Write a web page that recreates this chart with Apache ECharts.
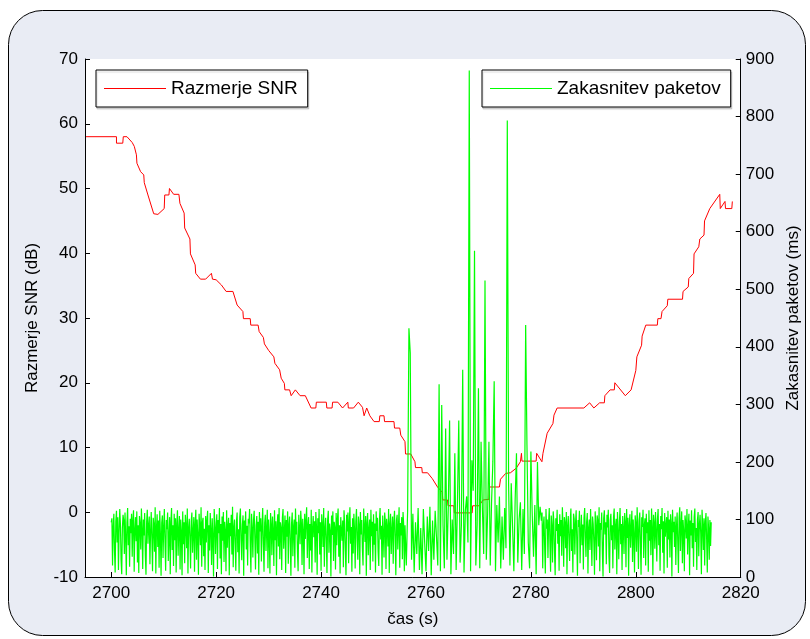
<!DOCTYPE html>
<html>
<head>
<meta charset="utf-8">
<script src="https://cdn.jsdelivr.net/npm/echarts@6/dist/echarts.min.js"></script>
<style>
  html, body { margin: 0; padding: 0; background: #fff; }
  #chart { width: 810px; height: 639px; }
</style>
</head>
<body>
<div id="chart"></div>
<script>
// SNR (dB), stepped trace
const snrTimes = [
  2695.2, 2701, 2701, 2702.2, 2702.3, 2703, 2704, 2704.4, 2704.8, 2704.9,
  2705.6, 2706.2, 2706.3, 2707, 2708.1, 2708.9, 2710.1, 2710.2, 2711, 2711.1,
  2711.9, 2712.9, 2713.1, 2713.9, 2714, 2715, 2715.1, 2716, 2716.1, 2717,
  2718, 2719.1, 2719.3, 2720, 2721, 2721.9, 2723.2, 2724, 2725.1, 2725.2,
  2726.5, 2726.6, 2728, 2728.2, 2729, 2729.2, 2730, 2731, 2731.2, 2732.1,
  2732.4, 2733, 2733.1, 2734, 2734.3, 2735.1, 2736, 2737, 2738.1, 2739,
  2739.1, 2741, 2741.1, 2742.1, 2742.2, 2743.2, 2744.1, 2745.1, 2745.2, 2746.2,
  2747.1, 2747.9, 2748.2, 2748.7, 2749.3, 2750.1, 2751.1, 2751.2, 2752, 2752.1,
  2753.9, 2754, 2755, 2755.2, 2756, 2756.1, 2757.1, 2757.9, 2758, 2759.2,
  2759.3, 2760.3, 2761.2, 2762.2, 2763.1, 2763.2, 2764.1, 2764.2, 2765.3, 2765.4,
  2768.8, 2768.9, 2770.1, 2770.9, 2772, 2772.1, 2774, 2774.2, 2775.2, 2776.1,
  2777.2, 2778, 2778.2, 2778.3, 2781, 2781.1, 2782.1, 2782.3, 2783.1, 2784.2,
  2784.4, 2785, 2790.1, 2791.2, 2792, 2793.1, 2794, 2794.1, 2795.1, 2795.9,
  2796, 2798, 2799.1, 2800, 2800.2, 2801.1, 2801.2, 2801.9, 2804.1, 2804.2,
  2804.8, 2805, 2806, 2806.1, 2808.9, 2809, 2810, 2810.1, 2811, 2811.1,
  2812, 2812.2, 2813, 2813.1, 2814.1, 2816, 2816.1, 2817, 2817.1, 2818.3,
  2818.4
];
const snrValues = [
  58, 58, 57, 57, 58, 58, 57.1, 56.5, 55.2, 53.9,
  52.6, 52.1, 50.9, 49, 46.1, 46, 46.9, 49, 49, 50,
  49.1, 49.1, 47.7, 46.2, 43.9, 42.2, 39.9, 38.2, 36.9, 36,
  36, 36.9, 36, 35.9, 35.1, 34.1, 34.1, 32, 31, 29.9,
  29.9, 28.9, 28.9, 27.9, 27, 26, 25, 24, 23, 22,
  20.7, 19.9, 18.9, 18.9, 18, 18.9, 18, 18, 16.1, 16.1,
  17, 17, 16.1, 16.1, 17, 17, 16.1, 17, 16.1, 16.1,
  17, 16.2, 14.9, 16.1, 14.9, 14, 14, 14.9, 14.9, 14,
  14, 13, 13, 11.9, 10.9, 9, 9, 7.8, 6.9, 6.9,
  6.1, 6.1, 5.2, 3.9, 3.1, 1.9, 1.9, 1, 1, -0.1,
  -0.1, 1, 1, 1.9, 2, 3.9, 3.9, 5.1, 6, 6.1,
  6.8, 7.8, 9.1, 7.9, 7.9, 9.1, 7.8, 9.1, 12.2, 13.7,
  15, 16.1, 16.1, 16.9, 16.1, 16.9, 16.9, 18, 18.9, 18.9,
  20, 18, 18.9, 21.9, 24, 25.8, 27.2, 28.9, 28.9, 29.9,
  29.9, 31, 31.9, 32.9, 32.9, 34.1, 34.8, 36.1, 36.9, 39.9,
  41, 42.2, 42.8, 45, 46.9, 49.1, 46.9, 48, 46.9, 46.9,
  48
];

// packet delay (ms): steady part before the dip, 8 samples per second
const delayEarlyStart = 2700;
const delayEarlyStep = 0.125;
const delayEarly = [
  95, 102, 20, 88, 110, 45, 8, 97, 115, 60, 104, 12, 78, 118, 92, 30,
  5, 85, 108, 99, 40, 112, 70, 3, 95, 120, 55, 88, 18, 101, 76, 110,
  35, 98, 116, 9, 82, 104, 62, 114, 25, 90, 7, 106, 93, 48, 119, 84,
  14, 100, 72, 111, 38, 4, 96, 117, 58, 89, 105, 22, 80, 113, 66, 10,
  103, 91, 44, 121, 6, 86, 109, 52, 98, 16, 115, 74, 2, 94, 107, 33,
  87, 118, 61, 11, 99, 83, 112, 28, 70, 104, 5, 96, 120, 47, 90, 19,
  110, 64, 102, 8, 93, 116, 37, 81, 106, 13, 100, 78, 3, 114, 57, 95,
  24, 108, 89, 50, 119, 6, 85, 101, 68, 15, 97, 112, 42, 79, 104, 9,
  92, 117, 30, 100, 73, 4, 110, 88, 55, 121, 18, 95, 103, 36, 84, 12,
  106, 60, 98, 115, 7, 90, 46, 111, 82, 21, 102, 69, 1, 118, 94, 40,
  87, 109, 14, 99, 76, 120, 32, 92, 5, 105, 63, 113, 26, 96, 80, 10,
  116, 51, 88, 103, 3, 94, 71, 108, 39, 122, 17, 86, 100, 58, 11, 97,
  112, 43, 83, 6, 104, 119, 65, 29, 91, 107, 2, 98, 75, 114, 48, 89,
  20, 101, 93, 118, 54, 8, 110, 85, 34, 99, 115, 67, 13, 90, 106, 41,
  96, 4, 113, 79, 102, 27, 88, 120, 59, 9, 94, 108, 45, 84, 117, 15,
  100, 72, 6, 111, 92, 38, 105, 81, 19, 116, 64, 97, 3, 89, 109, 53,
  120, 31, 95, 86, 12, 103, 118, 49, 78, 107, 7, 99, 70, 114, 23, 91,
  105, 60, 2, 93, 112, 36, 87, 100, 16, 119, 74, 96, 44, 10, 108, 83,
  57, 115, 94, 21, 101, 80, 5, 110, 66, 98, 121, 33, 89, 104, 14, 92,
  46, 117, 8, 85, 106, 69, 97, 25, 113, 88, 4, 102, 76, 118, 39, 95,
  11, 109, 90, 52, 120, 18, 84, 103, 62, 7, 99, 115, 42, 93, 80, 1,
  107, 73, 114, 28, 96, 86, 13, 111, 55, 101, 119, 35, 90, 6, 104, 82,
  63, 98, 17, 116, 92, 47, 3, 108, 79, 112, 24, 95, 121, 58, 87, 9,
  102, 41, 110, 84, 15, 97, 118, 67, 30, 105, 91, 5, 113, 74, 99, 50,
  20, 119, 88, 61, 106, 2, 94, 111, 38, 83, 100, 12, 117, 71, 96, 27,
  109, 56, 93, 8, 114, 80, 103, 44, 19, 98, 120, 65, 89, 4, 107, 76,
  34, 112, 97, 14, 101, 86, 53, 118, 7, 92, 110, 40, 81, 105, 23, 95,
  115, 68, 3, 99, 108, 48, 87, 121, 16, 94, 72, 104, 31, 113, 90, 10
];
// spiky part around the SNR minimum, 4 samples per second
const delayMidStart = 2756;
const delayMidStep = 0.25;
const delayMid = [
  90, 20, 115, 432, 389, 30, 110, 8,
  95, 40, 120, 12, 85, 5, 118, 60,
  10, 105, 45, 122, 3, 98, 30, 115,
  70, 20, 335, 10, 299, 90, 15, 258,
  30, 120, 272, 5, 100, 40, 215, 12,
  130, 272, 25, 90, 360, 8, 115, 140,
  60, 880, 10, 203, 150, 567, 20, 90,
  328, 15, 235, 120, 40, 515, 30, 110,
  235, 20, 130, 200, 340, 10, 125, 60,
  140, 15, 105, 30, 120, 50, 793, 160,
  20, 163, 90, 10, 135, 215, 25, 100,
  130, 12, 118, 40, 438, 229, 60, 15,
  218, 110, 35, 125, 5, 200, 90, 122
];
// steady part after the dip, 8 samples per second
const delayLateStart = 2782;
const delayLateStep = 0.125;
const delayLate = [
  98, 112, 15, 90, 105, 52, 6, 118, 84, 100, 33, 95, 120, 61, 9, 107,
  88, 25, 114, 96, 43, 3, 102, 80, 117, 58, 92, 11, 109, 71, 99, 37,
  121, 86, 18, 104, 94, 50, 113, 5, 89, 106, 66, 28, 97, 119, 45, 83,
  8, 110, 101, 39, 93, 116, 62, 2, 99, 87, 115, 24, 80, 108, 55, 91,
  13, 103, 120, 70, 35, 96, 111, 6, 85, 100, 47, 118, 77, 19, 105, 92,
  60, 4, 114, 89, 29, 107, 98, 53, 121, 10, 94, 82, 112, 41, 1, 102,
  116, 74, 95, 22, 108, 86, 117, 36, 7, 99, 110, 64, 90, 15, 104, 119,
  48, 88, 101, 5, 113, 79, 31, 97, 120, 57, 92, 12, 106, 84, 40, 111,
  96, 17, 118, 68, 103, 2, 91, 109, 51, 85, 115, 26, 100, 73, 8, 107,
  93, 44, 121, 82, 14, 98, 112, 59, 4, 104, 87, 117, 33, 90, 102, 20,
  110, 76, 95, 9, 116, 63, 99, 38, 119, 86, 3, 108, 94, 49, 113, 81,
  27, 101, 118, 55, 92, 11, 106, 83, 120, 42, 97, 6, 111, 70, 89, 104,
  16, 115, 65, 100, 34, 109, 93, 1, 117, 78, 96, 52, 105, 21, 88, 112,
  58, 7, 103, 121, 45, 91, 114, 24, 99, 80, 10, 107, 95, 67, 118, 39,
  87, 110, 3, 98, 72, 116, 50, 94, 18, 104, 119, 61, 85, 12, 100, 113,
  36, 92, 108, 75, 5, 117, 90, 47, 102, 20, 96, 111, 66, 8, 105, 84,
  30, 99, 54, 95
];

const xTicks = [2700, 2720, 2740, 2760, 2780, 2800, 2820];

const snrData = snrTimes.map((t, i) => [t, snrValues[i]]);
const delayData = [];
[
  [delayEarlyStart, delayEarlyStep, delayEarly],
  [delayMidStart, delayMidStep, delayMid],
  [delayLateStart, delayLateStep, delayLate]
].forEach(([start, step, vals]) => {
  vals.forEach((v, i) => delayData.push([start + i * step, v]));
});

const font = 'Liberation Sans, Arial, Helvetica, sans-serif';
const axisColor = '#000';

function legendBox(name, left) {
  return {
    data: [name],
    left: left, top: 70,
    padding: [8, 10, 8, 8],
    icon: 'rect',
    itemWidth: 62, itemHeight: 1, itemGap: 8,
    backgroundColor: '#fff',
    borderColor: '#000', borderWidth: 1,
    shadowColor: 'rgba(0,0,0,0.15)', shadowOffsetX: 1, shadowOffsetY: 2, shadowBlur: 1,
    textStyle: { fontSize: 19, lineHeight: 21, color: '#000', fontFamily: font }
  };
}

const options = {
  backgroundColor: '#fff',
  animation: false,
  textStyle: { fontFamily: font },
  graphic: [{
    type: 'rect',
    z: -100,
    silent: true,
    shape: { x: 8.5, y: 10.5, width: 797, height: 625, r: 34 },
    style: { fill: '#e9ecf4', stroke: '#000', lineWidth: 1 }
  }],
  grid: {
    left: 85, right: 65, top: 59, bottom: 62,
    show: true, backgroundColor: '#fff', borderWidth: 0
  },
  legend: [legendBox('Razmerje SNR', 96), legendBox('Zakasnitev paketov', 482)],
  xAxis: {
    type: 'value',
    min: 2695, max: 2820,
    name: 'čas (s)',
    nameLocation: 'middle',
    nameGap: 34,
    nameTextStyle: { fontSize: 17, color: '#000' },
    axisLine: { show: true, onZero: false, lineStyle: { color: axisColor } },
    axisTick: { show: true, inside: true, length: 5, customValues: xTicks, lineStyle: { color: axisColor } },
    axisLabel: { customValues: xTicks, fontSize: 17, color: '#000', margin: 8, formatter: v => String(v) },
    splitLine: { show: false }
  },
  yAxis: [{
    type: 'value',
    min: -10, max: 70, interval: 10,
    position: 'left',
    name: 'Razmerje SNR (dB)',
    nameLocation: 'middle',
    nameRotate: 90,
    nameGap: 44,
    nameTextStyle: { fontSize: 17, color: '#000' },
    axisLine: { show: true, lineStyle: { color: axisColor } },
    axisTick: { show: true, inside: true, length: 5, lineStyle: { color: axisColor } },
    axisLabel: { fontSize: 17, color: '#000', margin: 7 },
    splitLine: { show: false }
  }, {
    type: 'value',
    min: 0, max: 900, interval: 100,
    position: 'right',
    name: 'Zakasnitev paketov (ms)',
    nameLocation: 'middle',
    nameRotate: 90,
    nameGap: 42,
    nameTextStyle: { fontSize: 17, color: '#000' },
    axisLine: { show: true, lineStyle: { color: axisColor } },
    axisTick: { show: true, inside: true, length: 5, lineStyle: { color: axisColor } },
    axisLabel: { fontSize: 17, color: '#000', margin: 5 },
    splitLine: { show: false }
  }],
  series: [{
    name: 'Razmerje SNR',
    type: 'line',
    yAxisIndex: 0,
    data: snrData,
    symbol: 'none',
    color: '#ff0000',
    lineStyle: { width: 1, color: '#ff0000' },
    z: 2
  }, {
    name: 'Zakasnitev paketov',
    type: 'line',
    yAxisIndex: 1,
    data: delayData,
    symbol: 'none',
    color: '#00ff00',
    lineStyle: { width: 1.2, color: '#00ff00' },
    z: 3
  }]
};

const E = echarts.init(document.getElementById('chart'));
E.setOption(options);
window.onresize = function () {
  E.resize();
};
</script>
</body>
</html>
